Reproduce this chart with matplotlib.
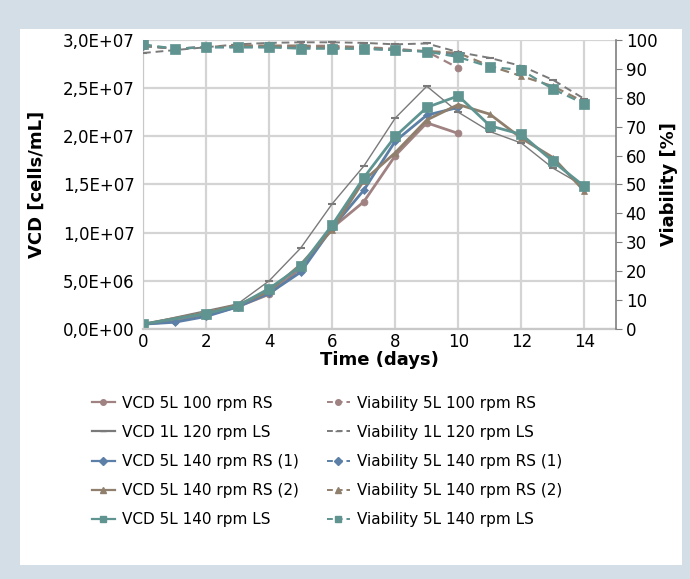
#!/usr/bin/env python3
import numpy as np
from matplotlib import pyplot as plt
from matplotlib import ticker as ticker
from matplotlib.lines import Line2D

# ---- data ----
days_a = [0, 1, 2, 3, 4, 5, 6, 7, 8, 9, 10]
days_b = [0, 3, 4, 5, 6, 7, 8, 9, 10, 11, 12, 13, 14]
days_c = [0, 2, 3, 4, 5, 6, 7, 8, 9, 10, 11, 12, 13, 14]
days_v = [0, 1, 2, 3, 4, 5, 6, 7, 8, 9, 10, 11, 12, 13, 14]

vcd_100_rs = [0.5e6, 0.8e6, 1.4e6, 2.3e6, 3.6e6, 6.3e6, 10.5e6, 13.2e6, 18.0e6, 21.4e6, 20.3e6]
vcd_120_ls = [0.5e6, 2.6e6, 5.0e6, 8.4e6, 13.0e6, 16.9e6, 21.9e6, 25.2e6, 22.5e6, 20.5e6, 19.3e6, 16.7e6, 14.8e6]
vcd_140_rs1 = [0.5e6, 0.7e6, 1.3e6, 2.3e6, 3.7e6, 5.9e6, 10.5e6, 14.4e6, 19.5e6, 22.2e6, 23.0e6]
vcd_140_rs2 = [0.5e6, 1.7e6, 2.5e6, 3.9e6, 6.7e6, 10.3e6, 15.4e6, 18.3e6, 21.7e6, 23.3e6, 22.3e6, 19.8e6, 17.8e6, 14.3e6]
vcd_140_ls = [0.5e6, 1.6e6, 2.4e6, 4.2e6, 6.5e6, 10.8e6, 15.7e6, 20.0e6, 23.0e6, 24.2e6, 21.1e6, 20.2e6, 17.4e6, 14.8e6]

via_100_rs = [98.0, 97.0, 97.5, 98.0, 98.0, 98.0, 98.0, 97.5, 97.0, 96.0, 90.3]
via_120_ls = [95.5, 96.5, 97.5, 98.5, 99.0, 99.2, 99.2, 99.0, 98.5, 98.8, 95.8, 93.8, 91.0, 86.2, 79.6]
via_140_rs1 = [98.0, 97.0, 97.5, 97.5, 97.5, 97.5, 97.2, 97.0, 96.5, 96.0, 95.0]
via_140_rs2 = [98.0, 97.0, 97.5, 98.0, 98.0, 98.0, 97.5, 97.5, 96.5, 96.2, 95.5, 91.0, 87.5, 84.0, 78.5]
via_140_ls = [98.5, 97.0, 97.5, 97.5, 97.5, 97.0, 97.0, 97.0, 96.5, 96.0, 94.1, 90.7, 89.6, 83.0, 77.9]

labels = ['5L 100 rpm RS', '1L 120 rpm LS', '5L 140 rpm RS (1)', '5L 140 rpm RS (2)', '5L 140 rpm LS']
colors = ['#a08282', '#7a7a7a', '#5b7fa6', '#8f7f6c', '#5f9490']
markers = ['o', '_', 'D', '^', 's']
msizes = [5, 6, 4, 5, 6.5]
lwidths = [2.0, 1.0, 2.0, 2.0, 2.0]

vcd_x = [days_a, days_b, days_a, days_c, days_c]
vcd_y = [vcd_100_rs, vcd_120_ls, vcd_140_rs1, vcd_140_rs2, vcd_140_ls]
via_x = [days_a, days_v, days_a, days_v, days_v]
via_y = [via_100_rs, via_120_ls, via_140_rs1, via_140_rs2, via_140_ls]

plt.rcParams['font.family'] = ['DejaVu Sans']
fig = plt.figure(figsize=(6.9, 5.79), dpi=100)
fig.patch.set_facecolor('#d3dee6')
# white panel
fig.add_artist(plt.Rectangle((20 / 690, 14 / 579), 662 / 690, 536 / 579,
                             transform=fig.transFigure, facecolor='white',
                             edgecolor='none', zorder=-10))

ax1 = fig.add_axes([143 / 690, 1 - 329 / 579, 473 / 690, 289 / 579])
ax1.set_facecolor('white')
ax2 = ax1.twinx()

for i in range(5):
    ax2.plot(via_x[i], via_y[i], linestyle='--', color=colors[i], marker=markers[i],
             markersize=msizes[i], linewidth=1.6 if i != 1 else 1.4, dashes=(4, 2.5),
             markeredgewidth=1.5 if markers[i] == '_' else 0.5)
    ax1.plot(vcd_x[i], vcd_y[i], linestyle='-', color=colors[i], marker=markers[i],
             markersize=msizes[i], linewidth=lwidths[i],
             markeredgewidth=1.5 if markers[i] == '_' else 0.5)

ax1.set_xlim(0, 15)
ax1.set_ylim(0, 3e7)
ax2.set_ylim(0, 100)
ax1.set_xticks(range(0, 15, 2))
ax1.set_yticks(np.arange(0, 3.01e7, 5e6))
ax2.set_yticks(range(0, 101, 10))
ax1.yaxis.set_major_formatter(ticker.FuncFormatter(
    lambda v, p: ('%.1E' % v).replace('.', ',')))

ax1.grid(color='#d4d4d4', linewidth=1.6)
ax1.set_axisbelow(True)
for ax in (ax1, ax2):
    for s in ('top', 'left', 'bottom', 'right'):
        ax.spines[s].set_visible(False)
ax2.spines['right'].set_visible(True)
ax2.spines['right'].set_color('#7f7f7f')
ax2.spines['right'].set_linewidth(1.2)
ax1.spines['left'].set_visible(True)
ax1.spines['left'].set_color('#c8c8c8')
ax1.spines['bottom'].set_visible(True)
ax1.spines['bottom'].set_color('#c8c8c8')
ax1.spines['bottom'].set_linewidth(1.6)

ax1.tick_params(axis='y', length=0, labelsize=12, pad=6)
ax1.tick_params(axis='x', length=0, labelsize=12, pad=3)
ax2.tick_params(axis='y', length=4, color='#7f7f7f', labelsize=12, pad=3)

ax1.set_xlabel('Time (days)', fontsize=13, fontweight='bold', labelpad=0)
ax1.set_ylabel('VCD [cells/mL]', fontsize=13, fontweight='bold', labelpad=12)
ax2.set_ylabel('Viability [%]', fontsize=13, fontweight='bold', labelpad=2)

handles = []
names = []
for i in range(5):
    handles.append(Line2D([], [], color=colors[i], marker=markers[i], linestyle='-',
                          markersize=4, linewidth=1.6))
    names.append('VCD ' + labels[i])
for i in range(5):
    handles.append(Line2D([], [], color=colors[i], marker=markers[i], linestyle='--',
                          markersize=4, linewidth=1.4, dashes=(3, 2)))
    names.append('Viability ' + labels[i])
fig.legend(handles, names, ncol=2, frameon=False, fontsize=11,
           loc='upper left', bbox_to_anchor=(78 / 690, 1 - 382 / 579),
           handlelength=1.5, handletextpad=0.5, columnspacing=1.8,
           labelspacing=0.92)

fig.savefig('out.png', dpi=100, facecolor=fig.get_facecolor())
